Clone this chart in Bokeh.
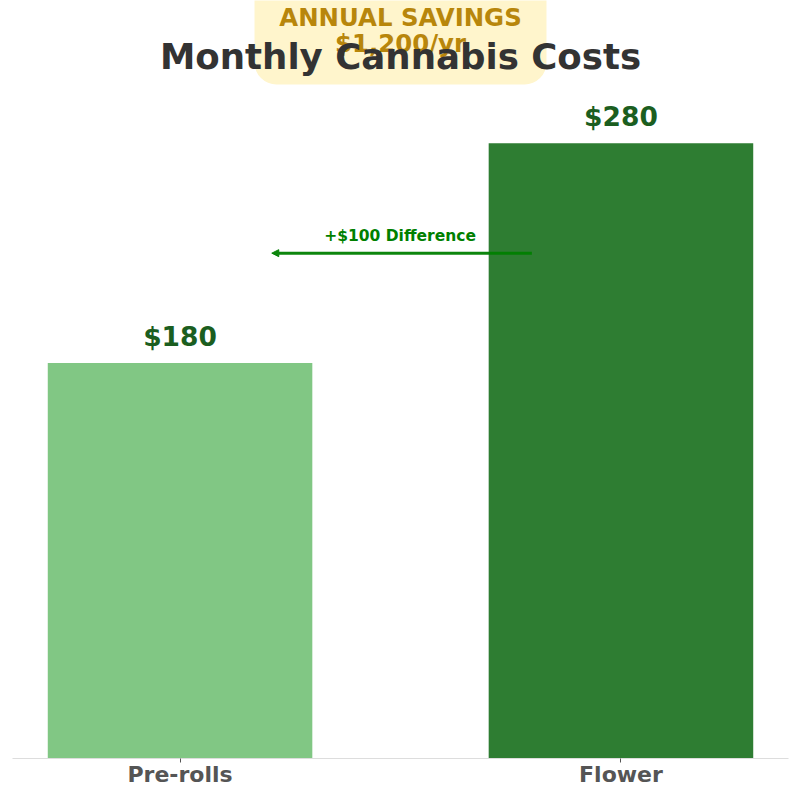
from bokeh.embed import file_html
from bokeh.resources import INLINE
from bokeh.plotting import figure
from bokeh.models import (ColumnDataSource, FactorRange, Range1d, Arrow, NormalHead,
                          Label, BoxAnnotation)

title = "Monthly Cannabis Costs"
categories = ["Pre-rolls", "Flower"]
values = [180, 280]
value_labels = ["$180", "$280"]
bar_colors = ["#81C784", "#2E7D32"]
diff_label = "+$100 Difference"
diff_level = 230
card_lines = ["ANNUAL SAVINGS", "$1,200/yr"]

FONT = "DejaVu Sans"
source = ColumnDataSource(dict(cat=categories, val=values, lab=value_labels, col=bar_colors))

p = figure(width=800, height=800, output_backend="svg", toolbar_location=None,
           x_range=FactorRange(factors=categories, range_padding=-0.12),
           y_range=Range1d(0, 345.0),
           min_border_left=12, min_border_right=12, min_border_top=0, min_border_bottom=42,
           outline_line_color=None, background_fill_color="white", border_fill_color="white")
p.grid.visible = False
p.yaxis.visible = False

ax = p.xaxis[0]
ax.axis_line_color = "#DDDDDD"
ax.axis_line_width = 1
ax.major_tick_line_color = "#555555"
ax.major_tick_in = 0
ax.major_tick_out = 4
ax.minor_tick_line_color = None
ax.major_label_text_font = FONT
ax.major_label_text_font_style = "bold"
ax.major_label_text_font_size = "22px"
ax.major_label_text_color = "#555555"
ax.major_label_standoff = -1

p.vbar(x="cat", top="val", width=0.6, color="col", source=source, line_color=None)
p.text(x="cat", y="val", text="lab", source=source, y_offset=-11,
       text_align="center", text_baseline="bottom", text_color="#1B5E20",
       text_font={"value": FONT}, text_font_style="bold", text_font_size="26.5px")

head = NormalHead(size=7, fill_color="#008000", line_color="#008000", fill_alpha=0.95, line_alpha=0.95)
p.add_layout(Arrow(end=head, x_start=1.298, y_start=diff_level, x_end=0.708, y_end=diff_level,
                   line_color="#008000", line_width=3, line_alpha=0.95))
p.add_layout(Label(x=0.999, y=diff_level, text=diff_label, y_offset=8, text_align="center",
                   text_baseline="bottom", text_color="#008000", text_font=FONT,
                   text_font_style="bold", text_font_size="15.5px"))

card = BoxAnnotation(left=242, right=534, top=800, bottom=674, left_units="screen", right_units="screen",
                     top_units="screen", bottom_units="screen", border_radius=22,
                     fill_color="#FFF5CC", fill_alpha=1, line_color=None)
p.add_layout(card)
for txt, y in zip(card_lines, [741, 715]):
    p.add_layout(Label(x=388, y=y, x_units="screen", y_units="screen", text=txt, text_align="center",
                       text_baseline="middle", text_color="#B8860B", text_font=FONT,
                       text_font_style="bold", text_font_size="24.4px"))
p.add_layout(Label(x=388, y=702, x_units="screen", y_units="screen", text=title, text_align="center",
                   text_baseline="middle", text_color="#333333", text_font=FONT,
                   text_font_style="bold", text_font_size="35.6px"))

open("out.html", "w").write(file_html(p, INLINE))
